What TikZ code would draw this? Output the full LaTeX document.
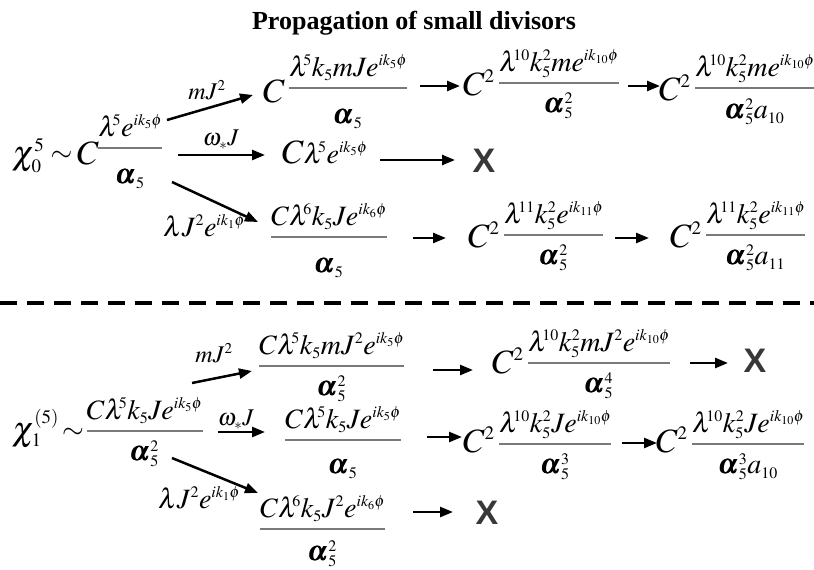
\documentclass[tikz,border=0pt]{standalone}
\usepackage{amsmath}
\usepackage{mathptmx}
\usepackage[no-math]{fontspec}
\setmainfont{Liberation Serif}
\newfontfamily\xsans{Liberation Sans}
\usetikzlibrary{arrows.meta}
\DeclareMathSizes{28}{28}{16}{12}
\DeclareMathSizes{34}{34}{19}{14}
\DeclareMathSizes{24}{24}{15}{11}
\definecolor{barcol}{HTML}{7A7A7A}
\definecolor{xgray}{HTML}{383838}
\newcommand\gfrac[3][26pt]{{\color{barcol}\dfrac{\color{black}#2}{\color{black}\vrule height #1 width 0pt #3}}}
\newcommand\BC[2][0pt]{\raisebox{-#1}{\fontsize{34}{36}\selectfont$#2$}}
\newcommand\lam[1]{\lambda^{\mkern-5mu#1}}
\newcommand\al{\pmb{\alpha}}
\begin{document}
\begin{tikzpicture}[x=1pt,y=-1pt,
  every node/.style={inner sep=0pt,outer sep=0pt},
  expr/.style={font=\fontsize{28}{32}\selectfont, anchor=base west},
  lbl/.style={font=\fontsize{24}{28}\selectfont},
  xmark/.style={font=\xsans\bfseries\fontsize{34}{38}\selectfont, text=xgray},
  arr/.style={line width=2.5pt, -{Triangle[length=13pt,width=10pt]}},
  sepline/.style={line width=3.5pt, dash pattern=on 17pt off 10pt}]
\useasboundingbox (0,0) rectangle (814,570);
\fill[white] (0,0) rectangle (814,570);
% title
\node[font=\bfseries\fontsize{26}{30}\selectfont, anchor=base] (title) at (414,29) {Propagation of small divisors};
% ---------- top ----------
\node[expr] (s0) at (12,155) {$\BC[9pt]{\chi_0^5}\mathrel{\raisebox{-6pt}{$\sim$}}\mkern-1mu\BC[9pt]{C}\mkern-1mu\gfrac[32pt]{\lam{5} e^{ik_5\phi}}{\al_5}$};
\node[expr] (t1) at (263,95) {$\BC[7pt]{C}\,\gfrac[32pt]{\lam{5} k_5 mJe^{ik_5\phi}}{\al_5}$};
\node[expr] (t2) at (463,90) {$\BC[5pt]{C^2}\,\gfrac{\lam{10}k_5^2 me^{ik_{10}\phi}}{\al_5^2}$};
\node[expr] (t3) at (659,95) {$\BC[5pt]{C^2}\,\gfrac[27pt]{\lam{10}k_5^2 me^{ik_{10}\phi}}{\al_5^2 a_{10}}$};
\node[expr] (t4) at (282,163) {$\BC{C}\lam{5} e^{ik_5\phi}$};
\node[xmark] (t5) at (484,161) {X};
\node[expr] (t6) at (270,244) {$\gfrac[32pt]{C\lam{6} k_5 Je^{ik_6\phi}}{\al_5}$};
\node[expr] (t7) at (468,242) {$\BC[5pt]{C^2}\,\gfrac{\lam{11}k_5^2 e^{ik_{11}\phi}}{\al_5^2}$};
\node[expr] (t8) at (670,242) {$\BC[5pt]{C^2}\,\gfrac{\lam{11}k_5^2 e^{ik_{11}\phi}}{\al_5^2 a_{11}}$};
% top arrows
\coordinate (a1s) at (167,120); \coordinate (a1e) at (253,95);
\coordinate (a2s) at (178,155); \coordinate (a2e) at (265,155);
\coordinate (a3s) at (172,182); \coordinate (a3e) at (258,222);
\draw[arr] (a1s) -- (a1e);
\draw[arr] (a2s) -- (a2e);
\draw[arr] (a3s) -- (a3e);
\node[lbl] (l1) at (207,90) {$mJ^2$};
\node[lbl] (l2) at (221,140) {$\omega_*J$};
\node[expr] (l3) at (163,236) {$\lambda J^2 e^{ik_1\phi}$};
\coordinate (t12s) at (420,86); \coordinate (t12e) at (460,86);
\coordinate (t23s) at (628,86); \coordinate (t23e) at (660,86);
\coordinate (t45s) at (380,160); \coordinate (t45e) at (455,160);
\coordinate (t67s) at (413,238); \coordinate (t67e) at (446,238);
\coordinate (t78s) at (615,238); \coordinate (t78e) at (649,238);
\draw[arr] (t12s) -- (t12e);
\draw[arr] (t23s) -- (t23e);
\draw[arr] (t45s) -- (t45e);
\draw[arr] (t67s) -- (t67e);
\draw[arr] (t78s) -- (t78e);
% separator
\coordinate (sepL) at (0,303); \coordinate (sepR) at (814,303);
\draw[sepline] (sepL) -- (sepR);
% ---------- bottom ----------
\node[expr] (b0) at (12,438) {$\BC[2pt]{\chi_1^{(5)}}\mkern-2mu\sim\mkern-3mu \gfrac{C\lam{5} k_5 Je^{ik_5\phi}}{\al_5^2}$};
\node[expr] (b1) at (258,373) {$\gfrac{C\lam{5} k_5 mJ^2 e^{ik_5\phi}}{\al_5^2}$};
\node[expr] (b2) at (492,370) {$\BC[3pt]{C^2}\,\gfrac{\lam{10}k_5^2 mJ^2 e^{ik_{10}\phi}}{\al_5^4}$};
\node[xmark] (b3) at (755,361) {X};
\node[expr] (b4) at (284,447) {$\gfrac[30pt]{C\lam{5} k_5 Je^{ik_5\phi}}{\al_5}$};
\node[expr] (b5) at (463,451) {$\BC[1pt]{C^2}\,\gfrac{\lam{10}k_5^2 Je^{ik_{10}\phi}}{\al_5^3}$};
\node[expr] (b6) at (656,451) {$\BC[1pt]{C^2}\,\gfrac{\lam{10}k_5^2 Je^{ik_{10}\phi}}{\al_5^3 a_{10}}$};
\node[expr] (b7) at (259,536) {$\gfrac[28pt]{C\lam{6} k_5 J^2 e^{ik_6\phi}}{\al_5^2}$};
\node[xmark] (b8) at (487,513) {X};
\coordinate (c1s) at (192,383); \coordinate (c1e) at (252,371);
\coordinate (c2s) at (218,432); \coordinate (c2e) at (265,432);
\coordinate (c3s) at (172,458); \coordinate (c3e) at (258,493);
\draw[arr] (c1s) -- (c1e);
\draw[arr] (c2s) -- (c2e);
\draw[arr] (c3s) -- (c3e);
\node[lbl] (m1) at (214,353) {$mJ^2$};
\node[lbl] (m2) at (236,420) {$\omega_*J$};
\node[expr] (m3) at (158,508) {$\lambda J^2 e^{ik_1\phi}$};
\coordinate (b12s) at (433,370); \coordinate (b12e) at (473,370);
\coordinate (b23s) at (690,363); \coordinate (b23e) at (728,363);
\coordinate (b45s) at (427,437); \coordinate (b45e) at (462,437);
\coordinate (b56s) at (622,443); \coordinate (b56e) at (657,443);
\coordinate (b78s) at (413,512); \coordinate (b78e) at (453,512);
\draw[arr] (b12s) -- (b12e);
\draw[arr] (b23s) -- (b23e);
\draw[arr] (b45s) -- (b45e);
\draw[arr] (b56s) -- (b56e);
\draw[arr] (b78s) -- (b78e);
\end{tikzpicture}
\end{document}
